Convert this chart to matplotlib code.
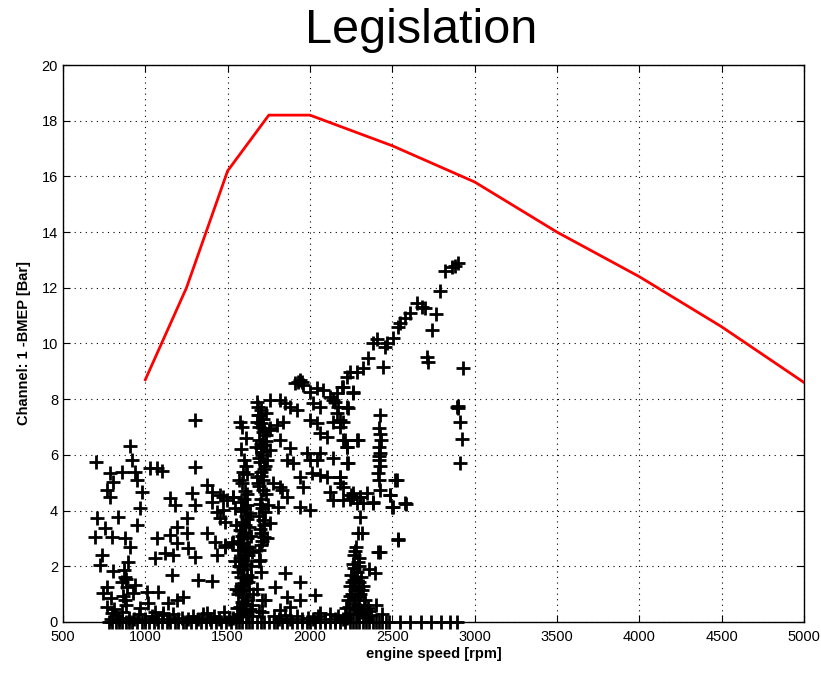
import matplotlib.pyplot as plt

# full load curve (legislation limit)
limit_rpm = [1000, 1250, 1500, 1750, 2000, 2500, 3000, 3500, 4000, 4500, 5000]
limit_bmep = [8.7, 12.0, 16.2, 18.2, 18.2, 17.1, 15.8, 14.0, 12.4, 10.6, 8.6]

# measured points, left cloud (700-1550 rpm)
left_rpm = [907, 700, 917, 785, 856, 937, 804, 947, 765, 785, 978, 1028, 1069, 1099, 1302,
            968, 704, 836, 755, 947, 694, 796, 877, 907, 735, 725, 805, 897, 877, 856,
            765, 745, 937, 927, 877, 765, 796, 1008, 1079, 968, 1059, 1150, 1180, 1281, 1302,
            1251, 1190, 1150, 1251, 1069, 1190, 1120, 1170, 1059, 1261, 1302, 1160, 1322, 1403,
            1372, 1372, 1403, 1453, 1494, 1534, 1403, 1433, 1473, 1453, 1484, 1423, 1484, 1534,
            1433, 1140, 1190, 1230, 1109, 1372, 1018, 1302, 1473, 1534, 1484, 1524, 1575, 1545, 1550,
            870, 885, 890, 865, 880, 790, 810]
left_bmep = [6.32, 5.74, 5.82, 5.35, 5.40, 5.40, 5.03, 5.10, 4.74, 4.50, 4.68, 5.53, 5.53, 5.43, 5.58,
             4.09, 3.73, 3.77, 3.38, 3.48, 3.05, 3.06, 3.02, 2.70, 2.41, 2.05, 1.84, 2.17, 1.63, 1.45,
             1.27, 1.03, 1.33, 1.03, 0.79, 0.55, 0.31, 1.09, 1.09, 0.49, 0.37, 4.44, 4.20, 4.62, 4.20,
             3.72, 3.42, 3.12, 3.18, 3.01, 2.83, 2.47, 2.41, 2.29, 2.65, 2.34, 1.69, 1.51, 1.48,
             3.18, 4.92, 4.68, 4.56, 4.38, 4.50, 4.32, 3.96, 4.02, 3.72, 3.60, 2.88, 2.76, 2.88,
             2.41, 0.67, 0.79, 0.91, 0.31, 0.31, 0.67, 7.25, 4.50, 4.50, 2.70, 2.83, 2.83, 4.10, 3.50,
             1.85, 1.55, 1.25, 0.95, 0.60, 0.85, 0.45]

# vertical band near 1600 rpm
band1_rpm = [1580, 1600, 1620, 1590, 1610, 1570, 1630, 1600, 1580, 1620, 1595, 1610, 1575,
             1625, 1600, 1585, 1615, 1600, 1630, 1590, 1610, 1580, 1620, 1600, 1560, 1645,
             1640, 1555, 1565, 1640, 1605, 1590, 1620, 1600, 1580, 1610, 1590, 1575,
             1560, 1575, 1590, 1605, 1620, 1635, 1650, 1565, 1580, 1595, 1610, 1625, 1640,
             1570, 1585, 1600, 1615, 1630, 1560, 1575, 1590, 1605, 1620, 1635, 1580, 1600,
             1620, 1595, 1610, 1570, 1550, 1655, 1545, 1650]
band1_bmep = [0.2, 0.4, 0.3, 0.7, 0.9, 1.1, 1.2, 1.4, 1.6, 1.7, 1.9, 2.1, 2.3,
              2.4, 2.6, 2.8, 3.0, 3.2, 3.4, 3.6, 3.8, 4.0, 4.2, 4.4, 1.8, 0.6,
              2.0, 0.5, 2.9, 3.1, 4.7, 5.0, 5.3, 5.8, 6.2, 6.6, 7.0, 7.19,
              0.3, 0.55, 0.25, 0.6, 0.8, 0.45, 0.2, 1.0, 1.3, 1.15, 1.5, 1.45, 1.6,
              2.0, 2.2, 2.4, 2.5, 2.7, 2.6, 3.3, 3.1, 3.5, 3.7, 3.9, 4.3, 4.1,
              4.6, 5.4, 5.6, 5.1, 1.2, 1.0, 2.2, 2.5]

# vertical band near 1700 rpm
band2_rpm = [1690, 1710, 1700, 1720, 1690, 1710, 1700, 1730, 1690, 1715, 1700, 1725, 1690,
             1710, 1700, 1730, 1690, 1715, 1700, 1680, 1740, 1745, 1680, 1670, 1740, 1750,
             1735, 1690, 1700, 1680, 1710, 1690, 1686, 1686, 1676, 1716, 1716,
             1705, 1720, 1695, 1712, 1725, 1698, 1715, 1685, 1705, 1722, 1695, 1710, 1700,
             1730, 1688, 1718, 1702, 1692]
band2_bmep = [2.6, 2.9, 3.2, 3.5, 3.8, 4.1, 4.4, 4.6, 4.9, 5.1, 5.4, 5.6, 5.9,
              6.1, 6.4, 6.7, 7.0, 7.3, 7.6, 7.9, 3.0, 4.2, 5.2, 6.3, 5.8, 6.9,
              7.5, 2.2, 1.8, 1.2, 0.8, 0.4, 7.73, 7.43, 7.19, 6.83, 6.36,
              2.75, 3.05, 3.35, 3.65, 3.95, 4.25, 4.75, 5.0, 5.25, 5.5, 5.75, 6.0, 6.25,
              6.5, 6.55, 6.9, 7.15, 7.45]

# middle cloud (1750-2600 rpm)
mid_rpm = [1909, 1939, 1959, 2000, 2041, 2081, 2121, 2152, 2172, 1757, 1818, 1848, 1878, 1919,
           1757, 1797, 1838, 1818, 2000, 2041, 2020, 2061, 2061, 2101, 2182, 2182, 2213, 2223,
           2284, 2233, 2263, 2202, 1757, 1878, 1858, 1899, 1980, 2000, 2041, 2061, 2142, 2223,
           1939, 1959, 2010, 2061, 2101, 2182, 2202, 2121, 2142, 2263, 2304, 2284, 2344, 2385,
           2486, 2506, 2577, 2526, 2536, 2415, 1818, 1858, 1828, 1939, 2000, 1777, 1808, 1757,
           1696, 1848, 1787, 1939, 2031, 1858, 1726, 1878, 1939, 1818, 1706, 2061,
           2202, 2293, 2223, 2233, 2182, 2182, 2202, 2304, 2324, 2385, 2263, 2162, 2142, 2223,
           2162, 2202, 2142, 1925, 1950, 2240, 2250]
mid_bmep = [8.57, 8.69, 8.51, 8.27, 8.39, 8.33, 8.09, 7.91, 7.73, 7.97, 7.97, 7.85, 7.73, 7.61,
            6.95, 7.07, 7.19, 6.54, 7.25, 7.13, 7.85, 7.73, 6.78, 6.65, 7.25, 7.01, 6.54, 6.30,
            6.54, 7.67, 8.27, 8.45, 6.18, 6.24, 5.82, 5.70, 6.06, 5.82, 5.82, 6.06, 5.88, 5.70,
            5.22, 4.86, 5.34, 5.28, 5.22, 5.22, 4.86, 4.68, 4.38, 4.62, 4.50, 4.26, 4.62, 4.26,
            4.56, 4.14, 4.26, 5.10, 2.94, 2.52, 4.86, 4.50, 4.74, 4.14, 4.02, 4.98, 4.14, 3.54,
            2.23, 1.75, 1.27, 1.45, 0.97, 0.91, 0.79, 0.55, 0.79, 0.43, 0.37, 0.31,
            6.54, 6.54, 6.30, 5.70, 5.22, 4.98, 4.38, 4.50, 4.26, 4.32, 4.50, 8.21, 7.97, 7.73,
            7.49, 7.19, 7.19, 8.62, 8.60, 4.40, 4.55]

# vertical streak near 2420 rpm
streak_rpm = [2425, 2421, 2429, 2425, 2421, 2415, 2421, 2425, 2516, 2486, 2496, 2583,
              2420, 2428, 2418, 2424]
streak_bmep = [7.43, 6.95, 6.54, 6.06, 5.82, 5.34, 5.10, 4.74, 5.10, 4.56, 4.14, 4.22,
               6.3, 5.6, 5.95, 6.75]

# blob near 2280 rpm
blob_rpm = [2280, 2270, 2295, 2260, 2300, 2285, 2250, 2310, 2270, 2240, 2320, 2290, 2255,
            2305, 2230, 2275, 2335, 2220, 2260, 2300, 2350, 2210, 2245, 2285, 2330, 2370,
            2290, 2305, 2314, 2360, 2395, 2425, 2400, 2440, 2536,
            2275, 2290, 2265, 2280, 2300, 2255, 2275, 2315, 2245, 2290, 2265, 2325, 2235,
            2310, 2280, 2345, 2225, 2360]
blob_bmep = [2.7, 2.4, 2.3, 2.1, 2.0, 1.8, 1.7, 1.6, 1.5, 1.3, 1.3, 1.2, 1.0,
             1.0, 0.8, 0.8, 0.8, 0.5, 0.5, 0.6, 0.5, 0.25, 0.3, 0.3, 0.3, 0.25,
             3.2, 3.78, 3.19, 1.9, 1.75, 2.5, 0.6, 0.3, 2.97,
             2.55, 2.15, 1.95, 1.6, 1.45, 1.45, 1.15, 1.15, 0.95, 0.9, 0.65, 0.6, 0.55,
             0.35, 0.45, 0.2, 0.15, 0.4]

# upper diagonal trail up to 2900 rpm
trail_rpm = [2901, 2861, 2820, 2881, 2790, 2648, 2678, 2698, 2765, 2607, 2577, 2547, 2536,
             2739, 2506, 2466, 2456, 2405, 2381, 2713, 2719, 2354, 2445, 2324, 2284, 2243,
             2223, 2193, 2263, 2927, 2891, 2901, 2911, 2925, 2911, 2896]
trail_bmep = [12.90, 12.76, 12.62, 12.78, 11.90, 11.47, 11.32, 11.26, 11.06, 11.08, 10.90, 10.75, 10.58,
              10.48, 10.19, 10.00, 9.86, 10.15, 10.00, 9.53, 9.35, 9.47, 9.17, 9.11, 8.99, 8.99,
              8.81, 8.45, 8.21, 9.11, 7.73, 7.67, 7.19, 6.57, 5.72, 7.75]

# points near zero load
low_rpm = [780, 800, 820, 840, 860, 880, 900, 920, 950, 980, 1000, 1020, 1050, 1080, 1100,
           1130, 1150, 1180, 1200, 1230, 1250, 1280, 1310, 1340, 1370, 1400, 1430, 1460, 1490,
           1520, 1550, 1570, 1590, 1610, 1630, 1650, 1680, 1700, 1720, 1750, 1780, 1800, 1830,
           1860, 1890, 1920, 1950, 1980, 2000, 2030, 2060, 2090, 2120, 2150, 2180, 2210, 2240,
           2260, 2280, 2300, 2320, 2340, 2360, 2380, 2400, 2420, 2440, 2460, 2480, 2547, 2609,
           2672, 2734, 2797, 2853, 2890,
           820, 860, 900, 960, 1040, 1110, 1170, 1220, 1290, 1350, 1420, 1480, 1530, 1780,
           1850, 1920, 1990, 2050, 2120, 2170,
           790, 840, 930, 1000, 1070, 1140, 1200, 1260, 1320, 1390, 1450, 1510, 1810, 1880,
           1950, 2020, 2090, 2150, 2200]
low_bmep = [0.0] * 76 + [0.2, 0.35, 0.15, 0.3, 0.2, 0.25, 0.3, 0.15, 0.2, 0.3, 0.2, 0.35,
                         0.15, 0.2, 0.25, 0.2, 0.15, 0.2, 0.3, 0.2,
                         0.1, 0.1, 0.12, 0.1, 0.1, 0.12, 0.1, 0.1, 0.12, 0.1, 0.1, 0.12,
                         0.1, 0.1, 0.12, 0.1, 0.1, 0.12, 0.1]

speed = left_rpm + band1_rpm + band2_rpm + mid_rpm + streak_rpm + blob_rpm + trail_rpm + low_rpm
bmep = left_bmep + band1_bmep + band2_bmep + mid_bmep + streak_bmep + blob_bmep + trail_bmep + low_bmep

plt.rcParams['font.family'] = ['Liberation Sans', 'DejaVu Sans']

fig = plt.figure(figsize=(8.21, 6.73), dpi=100)
ax = fig.add_axes([0.0767, 0.0758, 0.9026, 0.8276])

ax.plot(limit_rpm, limit_bmep, color='red', lw=2, zorder=3)
ax.plot(speed, bmep, linestyle='none', marker='+', color='black', ms=10, mew=2, zorder=2,
        clip_on=False)

ax.set_xlim(500, 5000)
ax.set_ylim(0, 20)
ax.set_xticks(range(500, 5001, 500))
ax.set_yticks(range(0, 21, 2))
ax.grid(True, color='black', linestyle=(0, (1, 4)), lw=0.8)
ax.tick_params(direction='in', top=True, right=True, labelsize=10.5, length=5)
ax.tick_params(axis='x', pad=6)
for s in ax.spines.values():
    s.set_linewidth(1.0)

ax.set_xlabel('engine speed [rpm]', fontsize=10.5, fontweight='bold', labelpad=2)
ax.set_ylabel('Channel: 1 -BMEP [Bar]', fontsize=10.5, fontweight='bold', labelpad=8)
fig.text(0.513, 0.955, 'Legislation', fontsize=35, ha='center', va='center')

fig.savefig('out.png', dpi=100)
